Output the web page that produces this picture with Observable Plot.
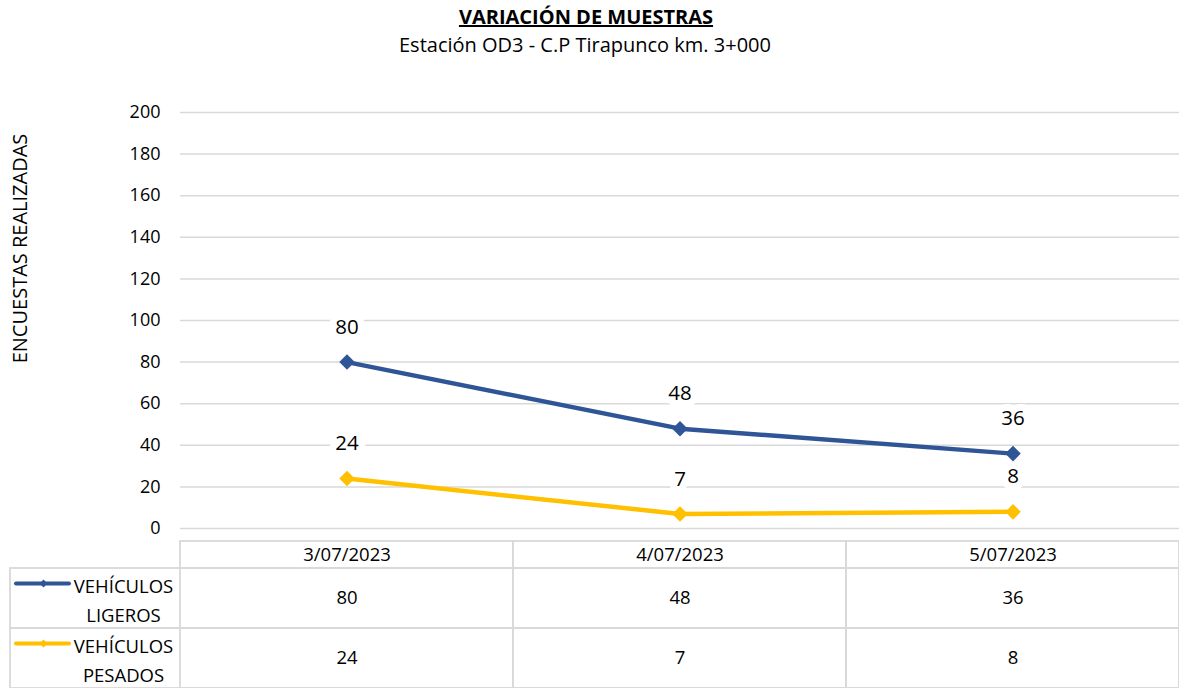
<!DOCTYPE html>
<html>
<head>
<meta charset="utf-8">
<script src="https://cdn.jsdelivr.net/npm/d3@7"></script>
<script src="https://cdn.jsdelivr.net/npm/@observablehq/plot@0.6"></script>
<style>
  html, body { margin: 0; padding: 0; background: #fff; }
  #wrap { position: relative; width: 1179px; height: 688px; overflow: hidden; font-family: "Open Sans", sans-serif; }
  .abs { position: absolute; left: 0; }
  #title { top: 3px; width: 1172px; text-align: center; font-weight: bold; font-size: 20px; line-height: 27px; text-decoration: underline; color: #000; }
  #subtitle { top: 31px; width: 1170px; text-align: center; font-size: 20px; line-height: 27px; color: #000; }
  svg { overflow: visible; }
</style>
</head>
<body>
<div id="wrap">
  <div id="chart" class="abs" style="top:0"></div>
  <div id="header" class="abs" style="top:541px"></div>
  <div id="body" class="abs" style="top:568px"></div>
  <div id="title" class="abs">VARIACIÓN DE MUESTRAS</div>
  <div id="subtitle" class="abs">Estación OD3 - C.P Tirapunco km. 3+000</div>
</div>
<script>
const dates = ["3/07/2023", "4/07/2023", "5/07/2023"];
const ligeros = [80, 48, 36];
const pesados = [24, 7, 8];
const seriesNames = ["VEHÍCULOS LIGEROS", "VEHÍCULOS PESADOS"];
const seriesLabels = ["VEHÍCULOS\nLIGEROS", "VEHÍCULOS\nPESADOS"];
const seriesColors = ["#2F5597", "#FFC000"];
const yTicks = [0, 20, 40, 60, 80, 100, 120, 140, 160, 180, 200];
const yLabel = "ENCUESTAS REALIZADAS";

const data = dates.flatMap((d, i) => [
  {date: d, serie: seriesNames[0], value: ligeros[i]},
  {date: d, serie: seriesNames[1], value: pesados[i]}
]);

const grid = "#d9d9d9";
const font = {fontFamily: "Open Sans, sans-serif", fontSize: "18px", color: "#000", background: "transparent", overflow: "visible"};
const colorOpt = {domain: seriesNames, range: seriesColors};
const xOpt = {type: "band", domain: dates, padding: 0, axis: null};

const chart = Plot.plot({
  width: 1179, height: 541,
  marginTop: 112, marginBottom: 13, marginLeft: 180, marginRight: 0,
  style: font,
  x: xOpt,
  y: {domain: [0, 200], ticks: yTicks, tickSize: 0, tickPadding: 20, label: null},
  color: colorOpt,
  marks: [
    Plot.ruleY(yTicks, {stroke: grid, strokeWidth: 1.5}),
    Plot.line(data, {x: "date", y: "value", z: "serie", stroke: "serie", strokeWidth: 4.5}),
    Plot.dot(data, {x: "date", y: "value", fill: "serie", symbol: "diamond2", r: 7}),
    Plot.text(data, {x: "date", y: "value", text: d => String(d.value), dy: -35, fill: "#000", stroke: "white", strokeWidth: 14, fontSize: 20.5}),
    Plot.text([yLabel], {frameAnchor: "left", dx: -160, dy: -72, rotate: -90, textAnchor: "middle", fill: "#000", fontSize: 20})
  ]
});
document.getElementById("chart").append(chart);

const header = Plot.plot({
  width: 1179, height: 27,
  marginTop: 0, marginBottom: 0, marginLeft: 180, marginRight: 0,
  style: font,
  x: xOpt,
  marks: [
    Plot.cell(dates, {x: d => d, fill: "none", stroke: grid, strokeWidth: 1.8}),
    Plot.text(dates, {x: d => d, frameAnchor: "middle", fill: "#000", fontSize: 18.5})
  ]
});
document.getElementById("header").append(header);

const body = Plot.plot({
  width: 1179, height: 120,
  marginTop: 0, marginBottom: 0, marginLeft: 10, marginRight: 0,
  style: font,
  x: {type: "band", domain: dates, range: [180, 1179], padding: 0, axis: null},
  y: {type: "band", domain: seriesNames, padding: 0, axis: null},
  color: colorOpt,
  marks: [
    Plot.cell(seriesNames, {y: d => d, fill: "none", stroke: grid, strokeWidth: 1.8}),
    Plot.cell(data, {x: "date", y: "serie", fill: "none", stroke: grid, strokeWidth: 1.8}),
    Plot.text(data, {x: "date", y: "serie", text: d => String(d.value), fill: "#000", fontSize: 18.5}),
    Plot.text(seriesNames, {y: d => d, text: (d, i) => seriesLabels[i], frameAnchor: "left", dx: 113, textAnchor: "middle", lineHeight: 1.57, fill: "#000", fontSize: 18.5}),
    Plot.ruleY(seriesNames, {y: d => d, stroke: d => d, dy: -15, strokeWidth: 4, strokeLinecap: "round", insetLeft: 6, insetRight: 1110}),
    Plot.dot(seriesNames, {y: d => d, frameAnchor: "left", dx: 33, dy: -15, fill: d => d, symbol: "diamond2", r: 3.5})
  ]
});
document.getElementById("body").append(body);
</script>
</body>
</html>
